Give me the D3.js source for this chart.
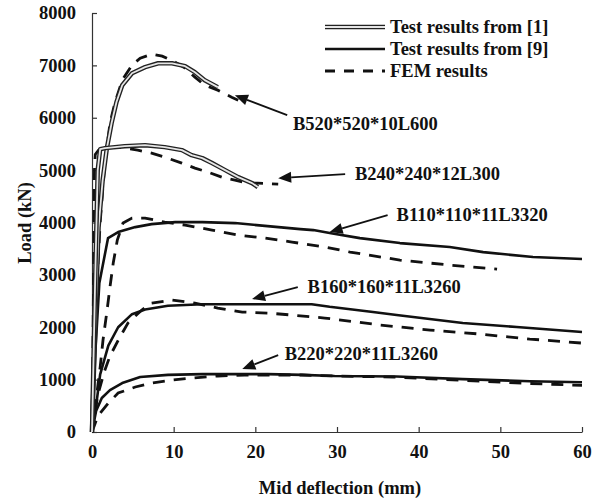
<!doctype html>
<html>
<head>
  <meta charset="utf-8">
  <script src="https://d3js.org/d3.v7.min.js"></script>
  <style>
    body { margin: 0; background: #fff; }
    svg { display: block; }
    text {
      font-family: "Liberation Serif", "Times New Roman", serif;
      font-weight: bold;
      font-size: 18.5px;
      fill: #111;
    }
    .axis path, .axis line { stroke: #333; stroke-width: 1.2; }
  </style>
</head>
<body>
<script>
  // [deflection (mm), load (kN)]
  var b520Test = [[0,0],[0.5,2500],[0.8,3900],[1.3,4800],[1.8,5400],[2.4,5900],[3.0,6300],[3.7,6620],[4.9,6850],[6.5,6966],[8.1,7040],[9.8,7040],[11.4,6985],[12.6,6870],[13.8,6718],[15.4,6584]];
  var b520Fem = [[0,0],[0.6,2800],[1.0,4000],[1.5,5000],[2.2,5897],[2.8,6279],[3.7,6718],[4.9,7004],[5.9,7137],[7.3,7214],[8.6,7176],[10.2,7061],[11.4,6947],[12.6,6775],[13.8,6622],[15.4,6527],[17.1,6393],[17.9,6336]];
  var b240Test = [[0,0],[0.4,3000],[0.7,5000],[1.0,5400],[1.6,5420],[4.0,5458],[6.5,5477],[8.9,5439],[11.0,5382],[12.2,5286],[13.5,5229],[14.7,5134],[16.3,5000],[17.9,4866],[19.6,4752],[20.3,4676]];
  var b240Fem = [[0,0],[0.2,3000],[0.3,5000],[0.4,5300],[0.8,5380],[1.6,5420],[3.2,5439],[5.6,5382],[7.3,5324],[8.9,5248],[11.0,5134],[12.6,5038],[14.2,4962],[15.9,4866],[17.5,4809],[19.1,4752],[20.3,4752],[22.8,4733]];
  var b110Test = [[0,0],[0.4,1500],[0.9,2844],[1.96,3700],[3.2,3817],[5.3,3912],[7.3,3969],[10.2,4008],[13.5,4008],[17.5,3989],[21.5,3931],[25.5,3874],[27.1,3855],[29.1,3798],[32.8,3702],[37.7,3607],[43.8,3531],[47.9,3435],[54.0,3340],[60,3302]];
  var b110Fem = [[0,0],[1.0,1240],[1.35,1756],[1.8,2271],[2.2,2767],[2.6,3225],[3.1,3664],[3.8,3989],[4.9,4084],[6.5,4084],[8.9,4008],[11.4,3950],[14.7,3855],[17.9,3760],[21.2,3702],[24.5,3626],[28.5,3531],[31.6,3435],[37.7,3282],[43.8,3187],[49.6,3111]];
  var b160Test = [[0,0],[0.5,500],[1.0,1100],[2.0,1650],[3.2,2000],[4.9,2250],[6.5,2340],[9.3,2410],[13.5,2440],[21.5,2440],[26.9,2440],[29.1,2390],[34.4,2290],[37.3,2233],[45.4,2080],[52.0,2004],[60,1908]];
  var b160Fem = [[0,0],[0.7,700],[1.5,1150],[2.2,1450],[3.2,1750],[4.4,2080],[6.1,2330],[7.3,2462],[9.8,2519],[12.6,2462],[15.4,2366],[18.4,2290],[21.5,2271],[24.5,2233],[28.5,2176],[35.3,2042],[41.4,1947],[47.5,1870],[53.6,1775],[60,1698]];
  var b220Test = [[0,0],[0.5,400],[1.2,650],[2.2,800],[3.7,935],[5.9,1050],[9.3,1090],[13.5,1105],[21.5,1105],[25.7,1090],[29.7,1070],[37.3,1060],[45.4,1010],[53.6,970],[60,950]];
  var b220Fem = [[0,0],[0.7,300],[2.0,553],[3.2,744],[5.3,859],[7.3,935],[9.8,992],[12.2,1030],[15.4,1069],[18.7,1088],[25.7,1088],[29.7,1069],[37,1050],[45,990],[53,930],[60,890]];

  var xTicks = [0, 10, 20, 30, 40, 50, 60];
  var yTicks = [0, 1000, 2000, 3000, 4000, 5000, 6000, 7000, 8000];
  var legendLabels = ["Test results from [1]", "Test results from [9]", "FEM results"];

  // label, arrow tip, arrow tail, text anchor (data units)
  var notes = [
    { label: "B520*520*10L600",  tip: [17.5, 6431], tail: [23.9, 6050], at: [24.6, 5763] },
    { label: "B240*240*12L300",  tip: [22.8, 4847], tail: [31.0, 4924], at: [32.2, 4809] },
    { label: "B110*110*11L3320", tip: [29.1, 3817], tail: [36.2, 4141], at: [37.3, 4027] },
    { label: "B160*160*11L3260", tip: [19.6, 2538], tail: [25.2, 2767], at: [26.4, 2653] },
    { label: "B220*220*11L3260", tip: [18.4, 1202], tail: [22.8, 1469], at: [23.6, 1374] }
  ];

  var width = 602, height = 499;
  var svg = d3.select("body").append("svg")
    .attr("width", width)
    .attr("height", height);

  var x = d3.scaleLinear().domain([0, 60]).range([92, 582]);
  var y = d3.scaleLinear().domain([0, 8000]).range([432, 13]);

  svg.append("g")
    .classed("axis", true)
    .attr("transform", "translate(0," + y(0) + ")")
    .call(d3.axisBottom(x).tickValues(xTicks).tickFormat(d3.format("d"))
      .tickSizeInner(-5).tickSizeOuter(0).tickPadding(13))
    .call(function (g) { g.selectAll("text").style("font-size", "18.5px").style("font-family", null); });

  svg.append("g")
    .classed("axis", true)
    .attr("transform", "translate(" + x(0) + ",0)")
    .call(d3.axisLeft(y).tickValues(yTicks).tickFormat(d3.format("d"))
      .tickSizeInner(-5).tickSizeOuter(0).tickPadding(16))
    .call(function (g) { g.selectAll("text").style("font-size", "18.5px").style("font-family", null); });

  svg.append("text")
    .attr("x", 340)
    .attr("y", 494)
    .attr("text-anchor", "middle")
    .text("Mid deflection (mm)");

  svg.append("text")
    .attr("transform", "translate(31,223) rotate(-90)")
    .attr("text-anchor", "middle")
    .text("Load (kN)");

  var line = d3.line()
    .x(function (d) { return x(d[0]); })
    .y(function (d) { return y(d[1]); });

  function drawDouble(data) {
    svg.append("path").datum(data).attr("d", line)
      .attr("fill", "none").attr("stroke", "#222").attr("stroke-width", 4.5)
      .attr("stroke-linejoin", "round");
    svg.append("path").datum(data).attr("d", line)
      .attr("fill", "none").attr("stroke", "#e6e6e6").attr("stroke-width", 1.8)
      .attr("stroke-linejoin", "round");
  }
  function drawSolid(data) {
    svg.append("path").datum(data).attr("d", line)
      .attr("fill", "none").attr("stroke", "#111").attr("stroke-width", 2.6)
      .attr("stroke-linejoin", "round");
  }
  function drawDashed(data) {
    svg.append("path").datum(data).attr("d", line)
      .attr("fill", "none").attr("stroke", "#111").attr("stroke-width", 2.8)
      .attr("stroke-dasharray", "12,9");
  }

  [b520Fem, b240Fem, b110Fem, b160Fem, b220Fem].forEach(drawDashed);
  [b110Test, b160Test, b220Test].forEach(drawSolid);
  [b520Test, b240Test].forEach(drawDouble);

  // annotations
  notes.forEach(function (n) {
    var x1 = x(n.tail[0]), y1 = y(n.tail[1]);
    var x2 = x(n.tip[0]), y2 = y(n.tip[1]);
    var ang = Math.atan2(y2 - y1, x2 - x1);
    var len = 13, half = 5.5;
    var bx = x2 - len * Math.cos(ang), by = y2 - len * Math.sin(ang);
    svg.append("line")
      .attr("x1", x1).attr("y1", y1).attr("x2", bx).attr("y2", by)
      .attr("stroke", "#111").attr("stroke-width", 1.8);
    var pts = [
      [x2, y2],
      [bx + half * Math.sin(ang), by - half * Math.cos(ang)],
      [bx - half * Math.sin(ang), by + half * Math.cos(ang)]
    ];
    svg.append("path")
      .attr("d", "M" + pts.join("L") + "Z")
      .attr("fill", "#111");
    svg.append("text")
      .attr("x", x(n.at[0]))
      .attr("y", y(n.at[1]))
      .text(n.label);
  });

  // legend
  var legend = svg.append("g");
  var rows = [27, 49, 71];
  legend.append("line").attr("x1", 325).attr("x2", 385).attr("y1", rows[0]).attr("y2", rows[0])
    .attr("stroke", "#222").attr("stroke-width", 4.5);
  legend.append("line").attr("x1", 325).attr("x2", 385).attr("y1", rows[0]).attr("y2", rows[0])
    .attr("stroke", "#e6e6e6").attr("stroke-width", 1.8);
  legend.append("line").attr("x1", 325).attr("x2", 385).attr("y1", rows[1]).attr("y2", rows[1])
    .attr("stroke", "#111").attr("stroke-width", 2.6);
  legend.append("line").attr("x1", 325).attr("x2", 385).attr("y1", rows[2]).attr("y2", rows[2])
    .attr("stroke", "#111").attr("stroke-width", 2.8).attr("stroke-dasharray", "10,9");
  legendLabels.forEach(function (t, i) {
    legend.append("text")
      .attr("x", 390)
      .attr("y", rows[i] + 6)
      .text(t);
  });
</script>
</body>
</html>
